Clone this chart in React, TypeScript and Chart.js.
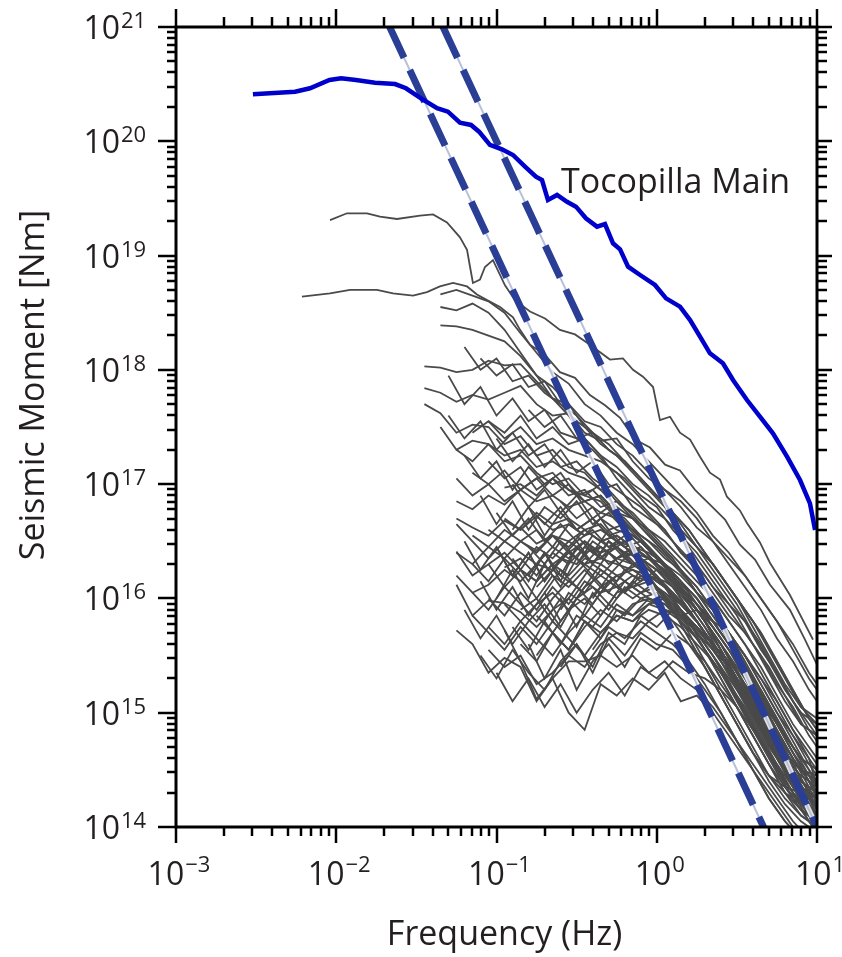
import React, { useEffect, useRef } from "react";
import { Chart, registerables } from "chart.js";

Chart.register(...registerables);

// ---------- axis ticks ----------
const xTickExponents = [-3, -2, -1, 0, 1];
const yTickExponents = [14, 15, 16, 17, 18, 19, 20, 21];
const xTitle = "Frequency (Hz)";
const yTitle = "Seismic Moment [Nm]";
const mainLabel = "Tocopilla Main";

// ---------- Tocopilla main shock (log10 Hz, log10 Nm) ----------
const mainLogFreq = [-2.52, -2.257, -2.164, -2.042, -1.97, -1.877, -1.758, -1.633, -1.565, -1.471, -1.371, -1.303, -1.228, -1.159, -1.109, -1.041, -0.966, -0.897, -0.822, -0.754, -0.716, -0.679, -0.622, -0.56, -0.504, -0.442, -0.373, -0.323, -0.273, -0.229, -0.179, -0.104, -0.011, 0.058, 0.145, 0.208, 0.27, 0.332, 0.413, 0.476, 0.563, 0.644, 0.725, 0.813, 0.894, 0.956, 0.988];
const mainLogMoment = [20.411, 20.434, 20.464, 20.536, 20.551, 20.536, 20.513, 20.501, 20.464, 20.376, 20.289, 20.259, 20.163, 20.143, 20.084, 19.968, 19.93, 19.88, 19.778, 19.69, 19.661, 19.486, 19.53, 19.471, 19.428, 19.326, 19.253, 19.276, 19.107, 19.055, 18.903, 18.83, 18.743, 18.626, 18.553, 18.436, 18.29, 18.145, 18.057, 17.911, 17.736, 17.59, 17.445, 17.24, 17.036, 16.832, 16.599];

// ---------- corner-frequency scaling lines (M0 ~ f^-3) ----------
const bandFreq = [0.01, 10];
const bandLowMoment = [1e22, 1e13];
const bandHighMoment = [1e23, 1e14];

// ---------- two largest aftershocks (log10 Hz, log10 Nm) ----------
const bigA_LogFreq = [-2.039, -1.933, -1.808, -1.727, -1.621, -1.477, -1.396, -1.309, -1.228, -1.184, -1.165, -1.147, -1.103, -1.072, -1.022, -0.947, -0.885, -0.791, -0.697, -0.604, -0.51, -0.417, -0.292, -0.211, -0.148, -0.086, -0.023, 0.02, 0.083, 0.145, 0.208, 0.27, 0.332, 0.395, 0.438, 0.519, 0.563, 0.644, 0.707, 0.831, 0.975];
const bigA_LogMoment = [19.31, 19.37, 19.37, 19.34, 19.32, 19.35, 19.36, 19.29, 19.16, 19.05, 18.9, 18.76, 18.79, 18.9, 18.96, 18.74, 18.61, 18.51, 18.45, 18.35, 18.31, 18.22, 18.09, 18.1, 18.0, 17.94, 17.85, 17.56, 17.59, 17.45, 17.39, 17.24, 17.1, 17.04, 16.89, 16.77, 16.66, 16.49, 16.31, 16.03, 15.64];
const bigB_LogFreq = [-2.214, -2.039, -1.914, -1.746, -1.646, -1.521, -1.434, -1.353, -1.271, -1.184, -1.122, -1.059, -0.978, -0.897, -0.853, -0.791, -0.697, -0.604, -0.51, -0.417, -0.323, -0.229, -0.136, -0.042, 0.052, 0.145, 0.239, 0.332, 0.426, 0.519, 0.613, 0.707, 0.831, 0.925, 1.0];
const bigB_LogMoment = [18.64, 18.67, 18.7, 18.7, 18.67, 18.65, 18.68, 18.73, 18.76, 18.73, 18.66, 18.61, 18.55, 18.46, 18.35, 18.22, 18.13, 17.98, 17.93, 17.78, 17.69, 17.58, 17.39, 17.32, 17.17, 17.12, 16.95, 16.82, 16.69, 16.47, 16.34, 16.12, 15.9, 15.64, 15.42];

// ---------- aftershock spectra, sampled on two frequency grids ----------
const gridLogFreqA = [-1.45, -1.35, -1.25, -1.15, -1.05, -0.95, -0.85, -0.75, -0.65, -0.55, -0.45, -0.35, -0.25, -0.15, -0.05, 0.05, 0.15, 0.25, 0.35, 0.45, 0.55, 0.65, 0.75, 0.85, 0.95, 1.0];
const gridLogFreqB = [-1.4, -1.3, -1.2, -1.1, -1.0, -0.9, -0.8, -0.7, -0.6, -0.5, -0.4, -0.3, -0.2, -0.1, 0.0, 0.1, 0.2, 0.3, 0.4, 0.5, 0.6, 0.7, 0.8, 0.9, 1.0];

const aft01 = [18.03, 18.02, 17.98, 18.0, 18.08, 18.04, 18.05, 17.9, 17.75, 17.7, 17.55, 17.5, 17.35, 17.25, 17.1, 16.95, 16.85, 16.7, 16.5, 16.35, 16.2, 16.0, 15.8, 15.6, 15.35, 15.25];
const aft02 = [17.84, 17.8, 17.72, 17.78, 17.74, 17.8, 17.86, 17.7, 17.6, 17.62, 17.45, 17.38, 17.4, 17.2, 17.05, 16.95, 16.8, 16.62, 16.5, 16.3, 16.1, 15.9, 15.65, 15.45, 15.2, 15.1];
const aft03 = [17.7, 17.62, 17.45, 17.52, 17.5, 17.35, 17.42, 17.25, 17.3, 17.15, 17.1, 16.95, 17.0, 16.8, 16.7, 16.6, 16.4, 16.3, 16.1, 15.95, 15.8, 15.55, 15.35, 15.1, 14.85, 14.75];
const aft04 = [18.66, 18.7, 18.65, 18.6, 18.5, 18.32, 18.15, 17.98, 17.88, 17.7, 17.6, 17.45, 17.35, 17.2, 17.05, 16.9, 16.75, 16.55, 16.4, 16.2, 16.0, 15.8, 15.55, 15.3, 15.2];
const aft05 = [18.55, 18.52, 18.58, 18.5, 18.35, 18.15, 17.95, 17.75, 17.6, 17.4, 17.25, 17.05, 16.9, 16.75, 16.6, 16.4, 16.25, 16.05, 15.85, 15.7, 15.5, 15.25, 15.05, 14.8, 14.7];
const aft06 = [18.39, 18.38, 18.35, 18.3, 18.25, 18.12, 17.95, 17.85, 17.7, 17.5, 17.35, 17.25, 17.1, 16.95, 16.8, 16.6, 16.45, 16.3, 16.1, 15.9, 15.7, 15.45, 15.2, 14.95, 14.85];
const aft07 = [17.5, 17.3, 17.38, 17.35, 17.2, 17.25, 17.1, 17.0, 17.05, 16.9, 16.85, 16.7, 16.6, 16.5, 16.35, 16.25, 16.05, 15.9, 15.7, 15.5, 15.3, 15.05, 14.8, 14.55, 14.45];
const aft08 = [16.85, 16.78, 16.9, 16.82, 16.95, 16.85, 16.9, 16.8, 16.85, 16.75, 16.7, 16.6, 16.45, 16.3, 16.15, 16.0, 15.8, 15.6, 15.4, 15.15, 14.9, 14.65, 14.4, 14.3];
const aft09 = [16.7, 16.62, 16.55, 16.68, 16.6, 16.72, 16.6, 16.65, 16.55, 16.6, 16.5, 16.45, 16.35, 16.25, 16.1, 15.95, 15.8, 15.6, 15.4, 15.2, 14.95, 14.7, 14.45, 14.35];
const aft10 = [16.4, 16.3, 16.45, 16.35, 16.5, 16.42, 16.55, 16.5, 16.6, 16.5, 16.55, 16.45, 16.35, 16.25, 16.1, 15.9, 15.7, 15.5, 15.25, 15.0, 14.75, 14.5, 14.2, 14.1];
const aft11 = [16.2, 16.05, 16.12, 16.25, 16.15, 16.3, 16.25, 16.4, 16.3, 16.35, 16.3, 16.25, 16.2, 16.1, 15.95, 15.8, 15.6, 15.4, 15.2, 14.95, 14.7, 14.45, 14.15, 14.0];
const aft12 = [15.72, 15.6, 15.35, 15.48, 15.4, 15.1, 15.3, 15.45, 15.45, 15.5, 15.4, 15.5, 15.35, 15.45, 15.3, 15.2, 15.05, 14.85, 14.65, 14.45, 14.25, 14.05, 13.9, 13.8];
const aft13 = [16.12, 15.85, 15.98, 15.96, 15.88, 15.75, 15.9, 16.0, 15.85, 16.05, 16.1, 16.0, 16.1, 16.05, 15.95, 15.8, 15.6, 15.45, 15.25, 15.05, 14.8, 14.55, 14.3, 14.15];
const aft14 = [16.41, 16.2, 16.3, 16.1, 16.25, 16.15, 16.3, 16.2, 16.35, 16.3, 16.2, 16.25, 16.15, 16.0, 15.85, 15.7, 15.5, 15.3, 15.1, 14.85, 14.6, 14.35, 14.1, 13.95];
const aft15 = [16.97, 17.0, 16.9, 17.05, 16.95, 16.85, 16.9, 16.75, 16.6, 16.45, 16.3, 16.15, 16.0, 15.8, 15.6, 15.4, 15.15, 14.9, 14.65, 14.45, 14.3];
const aft16 = [16.27, 16.35, 16.2, 16.4, 16.3, 16.45, 16.35, 16.5, 16.4, 16.35, 16.3, 16.2, 16.05, 15.9, 15.7, 15.5, 15.25, 15.0, 14.75, 14.5, 14.35];
const aft17 = [15.55, 15.4, 15.5, 15.25, 15.35, 15.5, 15.4, 15.6, 15.7, 15.65, 15.8, 15.9, 15.85, 15.9, 15.8, 15.7, 15.5, 15.3, 15.1, 14.85, 14.6, 14.35];
const aft18 = [15.72, 15.45, 15.12, 15.3, 15.0, 14.85, 15.25, 15.15, 15.3, 15.2, 15.35, 15.1, 15.15, 15.0, 14.8, 14.6, 14.4, 14.2, 14.0, 13.8, 13.7];
const aft19 = [16.6, 16.5, 16.62, 16.48, 16.55, 16.4, 16.5, 16.35, 16.45, 16.3, 16.35, 16.2, 16.1, 15.95, 15.8, 15.6, 15.4, 15.15, 14.9, 14.65, 14.4, 14.25];
const aft20 = [16.0, 15.85, 16.05, 15.9, 16.1, 15.95, 16.15, 16.05, 16.2, 16.1, 16.2, 16.15, 16.05, 15.9, 15.75, 15.55, 15.35, 15.1, 14.85, 14.6, 14.35, 14.2];
const aft21 = [17.1, 17.0, 17.12, 16.95, 17.05, 17.1, 16.95, 16.9, 17.0, 16.85, 16.75, 16.6, 16.5, 16.35, 16.2, 16.0, 15.8, 15.6, 15.35, 15.1, 14.85, 14.65, 14.55];
const aft22 = [16.5, 16.6, 16.45, 16.65, 16.55, 16.7, 16.6, 16.55, 16.45, 16.3, 16.15, 15.95, 15.75, 15.55, 15.3, 15.05, 14.8, 14.55, 14.3, 14.15];
const aft23 = [15.9, 16.0, 15.8, 16.05, 15.95, 16.1, 16.0, 16.15, 16.05, 16.0, 15.9, 15.75, 15.6, 15.4, 15.2, 14.95, 14.7, 14.45, 14.2, 14.05];
const aft24 = [15.5, 15.7, 15.55, 15.8, 15.7, 15.85, 15.8, 15.9, 15.85, 15.75, 15.6, 15.45, 15.25, 15.05, 14.8, 14.55, 14.3, 14.05, 13.95];
const aft25 = [16.3, 16.15, 16.35, 16.2, 16.0, 16.2, 16.1, 16.25, 16.1, 16.2, 16.1, 16.15, 16.0, 15.9, 15.75, 15.6, 15.4, 15.2, 14.95, 14.7, 14.45, 14.2, 14.05];
const aft26 = [15.85, 15.7, 15.55, 15.75, 15.6, 15.8, 15.65, 15.5, 15.7, 15.85, 15.8, 15.95, 15.9, 15.85, 15.75, 15.6, 15.45, 15.25, 15.05, 14.8, 14.55, 14.3, 14.15];
const aft27 = [17.3, 17.2, 17.35, 17.25, 17.3, 17.15, 17.2, 17.1, 17.05, 16.95, 16.8, 16.7, 16.55, 16.4, 16.25, 16.1, 15.9, 15.7, 15.5, 15.25, 15.0, 14.8, 14.6, 14.5];
const aft28 = [17.05, 16.9, 17.0, 16.85, 16.95, 17.05, 16.9, 17.0, 16.85, 16.9, 16.75, 16.7, 16.55, 16.4, 16.25, 16.1, 15.9, 15.7, 15.45, 15.2, 14.95, 14.7, 14.5, 14.4];
const aft29 = [17.55, 17.45, 17.6, 17.4, 17.5, 17.35, 17.4, 17.25, 17.15, 17.0, 16.9, 16.75, 16.6, 16.45, 16.3, 16.1, 15.9, 15.7, 15.45, 15.2, 14.95, 14.85];
const aft30 = [16.55, 16.45, 16.6, 16.5, 16.4, 16.55, 16.45, 16.6, 16.5, 16.55, 16.45, 16.35, 16.25, 16.1, 15.95, 15.75, 15.55, 15.35, 15.1, 14.85, 14.6, 14.4, 14.25];
const aft31 = [16.3, 16.4, 16.25, 16.45, 16.35, 16.5, 16.4, 16.45, 16.35, 16.4, 16.3, 16.2, 16.05, 15.9, 15.7, 15.5, 15.3, 15.05, 14.8, 14.55, 14.3, 14.15];
const aft32 = [15.95, 15.8, 15.95, 16.05, 15.9, 16.1, 16.2, 16.1, 16.2, 16.15, 16.05, 15.9, 15.75, 15.55, 15.35, 15.1, 14.85, 14.6, 14.35, 14.1, 14.0];
const aft33 = [16.25, 16.15, 16.3, 16.4, 16.3, 16.45, 16.35, 16.45, 16.4, 16.3, 16.15, 16.0, 15.8, 15.6, 15.35, 15.1, 14.85, 14.6, 14.4, 14.3];
const aft34 = [16.1, 16.25, 16.15, 16.3, 16.2, 16.35, 16.3, 16.25, 16.1, 15.95, 15.8, 15.6, 15.4, 15.15, 14.9, 14.65, 14.4, 14.2, 14.1];
const aft35 = [15.7, 15.55, 15.8, 15.65, 15.9, 15.85, 15.95, 16.0, 15.9, 15.75, 15.6, 15.4, 15.2, 14.95, 14.7, 14.45, 14.2, 14.0];
const aft36 = [17.45, 17.55, 17.4, 17.5, 17.35, 17.4, 17.3, 17.25, 17.2, 17.1, 16.95, 16.8, 16.7, 16.55, 16.4, 16.2, 16.0, 15.8, 15.6, 15.35, 15.1, 14.9, 14.8];
const aft37 = [15.75, 15.6, 15.8, 15.65, 15.5, 15.7, 15.85, 15.75, 15.95, 15.85, 16.0, 15.95, 15.85, 15.7, 15.55, 15.4, 15.2, 15.0, 14.75, 14.5, 14.25, 14.1];
const aft38 = [16.05, 15.9, 16.1, 15.95, 15.8, 16.0, 16.15, 16.05, 16.25, 16.15, 16.3, 16.2, 16.1, 15.95, 15.8, 15.6, 15.4, 15.15, 14.9, 14.65, 14.4, 14.25, 14.1];
const aft39 = [16.7, 16.6, 16.75, 16.65, 16.7, 16.6, 16.65, 16.5, 16.4, 16.25, 16.1, 15.9, 15.7, 15.5, 15.25, 15.0, 14.75, 14.55, 14.35, 14.25, 14.15];
const aft40 = [15.6, 15.45, 15.7, 15.55, 15.75, 15.9, 15.8, 15.95, 16.0, 15.9, 15.8, 15.65, 15.45, 15.25, 15.0, 14.75, 14.5, 14.25, 14.05, 13.95];
const aft41 = [16.65, 16.5, 16.35, 16.5, 16.4, 16.3, 16.45, 16.35, 16.5, 16.4, 16.45, 16.3, 16.2, 16.1, 15.95, 15.8, 15.6, 15.4, 15.2, 14.95, 14.7, 14.45, 14.2, 14.05];
const aft42 = [17.2, 17.05, 17.15, 16.95, 17.05, 16.9, 16.95, 16.8, 16.85, 16.7, 16.6, 16.45, 16.3, 16.15, 16.0, 15.8, 15.6, 15.4, 15.15, 14.9, 14.7, 14.6];
const aft43 = [15.85, 15.7, 15.9, 16.0, 15.85, 16.05, 16.1, 16.0, 15.95, 15.8, 15.65, 15.45, 15.25, 15.0, 14.75, 14.5, 14.3, 14.15, 14.05];

const bft01 = [17.25, 17.05, 17.2, 16.95, 17.15, 17.0, 17.1, 16.9, 16.95, 16.8, 16.7, 16.55, 16.45, 16.3, 16.15, 15.95, 15.75, 15.55, 15.3, 15.05, 14.8, 14.6, 14.5];
const bft02 = [16.9, 16.65, 16.85, 16.6, 16.8, 16.7, 16.85, 16.65, 16.75, 16.6, 16.5, 16.35, 16.2, 16.05, 15.85, 15.65, 15.45, 15.2, 14.95, 14.7, 14.5, 14.4];
const bft03 = [16.5, 16.25, 16.45, 16.2, 16.4, 16.15, 16.35, 16.3, 16.5, 16.4, 16.5, 16.35, 16.25, 16.1, 15.9, 15.7, 15.5, 15.25, 15.0, 14.75, 14.5, 14.3, 14.2];
const bft04 = [16.0, 16.25, 16.0, 16.3, 16.1, 16.35, 16.2, 16.4, 16.25, 16.3, 16.2, 16.05, 15.9, 15.7, 15.5, 15.25, 15.0, 14.75, 14.5, 14.3, 14.2];
const bft05 = [15.9, 15.65, 15.85, 15.6, 15.8, 15.95, 15.75, 16.0, 16.1, 15.95, 16.15, 16.05, 16.1, 15.95, 15.8, 15.6, 15.4, 15.15, 14.9, 14.65, 14.4, 14.2, 14.1];
const bft06 = [16.6, 16.8, 16.55, 16.75, 16.6, 16.7, 16.55, 16.6, 16.45, 16.3, 16.15, 15.95, 15.75, 15.5, 15.25, 15.0, 14.75, 14.55, 14.35, 14.25];
const bft07 = [16.2, 16.4, 16.15, 16.45, 16.3, 16.5, 16.35, 16.45, 16.3, 16.15, 16.0, 15.8, 15.6, 15.35, 15.1, 14.85, 14.6, 14.4, 14.25];
const bft08 = [15.5, 15.3, 15.55, 15.35, 15.2, 15.45, 15.6, 15.4, 15.7, 15.6, 15.85, 15.75, 15.9, 15.8, 15.65, 15.45, 15.25, 15.0, 14.75, 14.5, 14.25, 14.1];
const bft09 = [17.4, 17.2, 17.35, 17.15, 17.3, 17.1, 17.2, 17.0, 16.9, 16.8, 16.65, 16.5, 16.35, 16.2, 16.0, 15.8, 15.6, 15.4, 15.15, 14.9, 14.8];
const bft10 = [17.95, 17.7, 17.85, 17.6, 17.75, 17.55, 17.65, 17.45, 17.4, 17.3, 17.15, 17.05, 16.9, 16.8, 16.6, 16.45, 16.25, 16.05, 15.85, 15.6, 15.35, 15.1, 14.9, 14.8];
const bft11 = [18.2, 18.0, 18.1, 17.9, 17.95, 17.8, 17.7, 17.55, 17.45, 17.3, 17.2, 17.05, 16.9, 16.75, 16.55, 16.35, 16.15, 15.95, 15.7, 15.45, 15.2, 15.0, 14.9];
const bft12 = [16.35, 16.15, 16.4, 16.2, 16.45, 16.3, 16.5, 16.4, 16.35, 16.25, 16.1, 15.9, 15.7, 15.45, 15.2, 14.95, 14.7, 14.5, 14.3, 14.2];
const bft13 = [15.8, 16.0, 15.75, 16.05, 15.9, 16.1, 16.0, 16.05, 15.9, 15.75, 15.55, 15.35, 15.1, 14.85, 14.6, 14.35, 14.15, 14.05];
const bft14 = [16.15, 15.9, 16.1, 15.85, 16.05, 15.8, 16.0, 16.2, 16.05, 16.25, 16.15, 16.25, 16.1, 15.95, 15.75, 15.55, 15.3, 15.05, 14.8, 14.55, 14.35, 14.2];
const bft15 = [15.4, 15.6, 15.35, 15.65, 15.5, 15.7, 15.6, 15.55, 15.4, 15.2, 15.0, 14.75, 14.5, 14.25, 14.05, 13.9, 13.8];
const bft16 = [17.0, 16.8, 16.95, 16.75, 16.9, 16.7, 16.8, 16.6, 16.5, 16.35, 16.2, 16.0, 15.8, 15.6, 15.35, 15.1, 14.85, 14.65, 14.5, 14.45];
const bft17 = [15.6, 15.3, 15.55, 15.2, 15.45, 15.6, 15.4, 15.65, 15.55, 15.7, 15.6, 15.45, 15.25, 15.05, 14.8, 14.55, 14.3, 14.1, 14.0];
const bft18 = [16.55, 16.4, 16.6, 16.45, 16.5, 16.35, 16.2, 16.0, 15.8, 15.55, 15.3, 15.05, 14.8, 14.6, 14.45, 14.35];
const bft19 = [16.0, 16.2, 16.05, 16.25, 16.15, 16.05, 15.9, 15.7, 15.5, 15.25, 15.0, 14.75, 14.5, 14.3, 14.2];
const bft20 = [16.75, 16.55, 16.7, 16.5, 16.65, 16.5, 16.6, 16.45, 16.55, 16.4, 16.3, 16.15, 16.0, 15.8, 15.6, 15.35, 15.1, 14.85, 14.6, 14.4, 14.3];
const bft21 = [17.6, 17.4, 17.55, 17.3, 17.45, 17.25, 17.35, 17.15, 17.2, 17.05, 16.95, 16.8, 16.65, 16.5, 16.35, 16.15, 15.95, 15.75, 15.5, 15.25, 15.0, 14.8, 14.6, 14.5];
const bft22 = [18.1, 17.95, 18.05, 17.85, 17.9, 17.7, 17.6, 17.45, 17.35, 17.2, 17.05, 16.9, 16.75, 16.6, 16.4, 16.2, 16.0, 15.8, 15.55, 15.3, 15.05, 14.9];
const bft23 = [17.65, 17.5, 17.6, 17.4, 17.45, 17.3, 17.2, 17.05, 16.9, 16.75, 16.6, 16.4, 16.2, 16.0, 15.75, 15.5, 15.25, 15.05, 14.95];
const bft24 = [16.85, 16.7, 16.8, 16.6, 16.65, 16.5, 16.35, 16.2, 16.0, 15.8, 15.55, 15.3, 15.05, 14.8, 14.6, 14.5, 14.4];
const bft25 = [15.35, 15.1, 15.3, 15.05, 15.25, 15.0, 15.2, 15.35, 15.15, 15.4, 15.3, 15.45, 15.35, 15.3, 15.2, 15.05, 14.85, 14.65, 14.4, 14.2, 14.0];
const bft26 = [16.45, 16.3, 16.5, 16.35, 16.55, 16.45, 16.5, 16.35, 16.2, 16.0, 15.8, 15.55, 15.3, 15.05, 14.8, 14.55, 14.35, 14.2, 14.1];
const bft27 = [16.05, 16.25, 16.1, 16.3, 16.2, 16.35, 16.25, 16.1, 15.9, 15.7, 15.45, 15.2, 14.95, 14.7, 14.45, 14.25, 14.1, 14.0];
const bft28 = [15.75, 15.55, 15.8, 15.6, 15.85, 15.75, 15.95, 15.85, 16.0, 15.95, 15.8, 15.6, 15.4, 15.15, 14.9, 14.65, 14.4, 14.2, 14.05, 13.95];
const bft29 = [16.3, 16.45, 16.3, 16.4, 16.25, 16.1, 15.9, 15.65, 15.4, 15.15, 14.9, 14.65, 14.45, 14.3, 14.2, 14.1];
const bft30 = [16.45, 16.2, 16.4, 16.15, 16.35, 16.5, 16.3, 16.5, 16.4, 16.45, 16.3, 16.15, 16.0, 15.8, 15.55, 15.3, 15.05, 14.8, 14.55, 14.35, 14.25];
const bft31 = [15.9, 16.1, 15.95, 16.15, 16.05, 16.2, 16.1, 15.95, 15.75, 15.55, 15.3, 15.05, 14.8, 14.55, 14.3, 14.15, 14.05];
const bft32 = [16.8, 16.65, 16.8, 16.6, 16.7, 16.55, 16.45, 16.3, 16.1, 15.9, 15.65, 15.4, 15.15, 14.9, 14.65, 14.45, 14.35, 14.3, 14.25];
const bft33 = [15.55, 15.75, 15.65, 15.8, 15.7, 15.6, 15.45, 15.25, 15.0, 14.75, 14.5, 14.25, 14.05, 13.9, 13.8];

const spectraOnGridA = [aft01, aft02, aft03, aft04, aft05, aft06, aft07, aft08, aft09, aft10, aft11, aft12, aft13, aft14, aft15, aft16, aft17, aft18, aft19, aft20, aft21, aft22, aft23, aft24, aft25, aft26, aft27, aft28, aft29, aft30, aft31, aft32, aft33, aft34, aft35, aft36, aft37, aft38, aft39, aft40, aft41, aft42, aft43];
const startOnGridA = [0, 0, 0, 1, 1, 1, 1, 2, 2, 2, 2, 2, 2, 2, 5, 5, 4, 5, 4, 4, 3, 6, 6, 7, 3, 3, 2, 2, 4, 3, 4, 5, 6, 7, 8, 3, 4, 3, 5, 6, 2, 4, 7];
const spectraOnGridB = [bft01, bft02, bft03, bft04, bft05, bft06, bft07, bft08, bft09, bft10, bft11, bft12, bft13, bft14, bft15, bft16, bft17, bft18, bft19, bft20, bft21, bft22, bft23, bft24, bft25, bft26, bft27, bft28, bft29, bft30, bft31, bft32, bft33];
const startOnGridB = [2, 3, 2, 4, 2, 5, 6, 3, 4, 1, 2, 5, 7, 3, 8, 5, 6, 9, 10, 4, 1, 3, 6, 8, 4, 6, 7, 5, 9, 4, 8, 6, 10];

// ---------- helpers ----------
const p10 = (v: number) => Math.pow(10, v);
const logPts = (lf: number[], lm: number[]) => lf.map((f, i) => ({ x: p10(f), y: p10(lm[i]) }));
const gridPts = (grid: number[], start: number, lm: number[]) => {
  const out: { x: number; y: number }[] = [];
  lm.forEach((m, i) => {
    const gi = start + i;
    if (gi < grid.length) out.push({ x: p10(grid[gi]), y: p10(m) });
  });
  return out;
};

const FONT = '"Open Sans", "Noto Sans", sans-serif';
const TEXT = "#231f20";
const supExp = (e: number) => (e < 0 ? "\u2212" + Math.abs(e) : String(e));

const framePlugin = {
  id: "framePlugin",
  afterDraw(chart: any) {
    const { ctx, chartArea: a, scales } = chart;
    const xs = scales.x;
    const ys = scales.y;
    ctx.save();
    ctx.strokeStyle = "#000";
    ctx.lineCap = "butt";
    ctx.lineWidth = 2.5;
    const seg = (x1: number, y1: number, x2: number, y2: number) => {
      ctx.beginPath();
      ctx.moveTo(x1, y1);
      ctx.lineTo(x2, y2);
      ctx.stroke();
    };
    for (let e = -3; e <= 1; e++) {
      for (let k = 1; k <= 9; k++) {
        const v = k * p10(e);
        if (v > 10.0001) break;
        const px = Math.round(xs.getPixelForValue(v));
        const major = k === 1;
        seg(px, a.bottom, px, a.bottom + (major ? 16 : 9));
        seg(px, a.top, px, a.top - (major ? 18 : 10));
      }
    }
    for (let e = 14; e <= 21; e++) {
      for (let k = 1; k <= 9; k++) {
        const v = k * p10(e);
        if (v > 1.0001e21) break;
        const py = Math.round(ys.getPixelForValue(v));
        const major = k === 1;
        seg(a.left, py, a.left - (major ? 18 : 9), py);
        seg(a.right, py, a.right + (major ? 15 : 10), py);
      }
    }
    ctx.lineWidth = 3;
    ctx.strokeRect(a.left, a.top, a.right - a.left, a.bottom - a.top);

    ctx.fillStyle = TEXT;
    ctx.textBaseline = "alphabetic";
    const bigFont = `32px ${FONT}`;
    const supFont = `22px ${FONT}`;
    xTickExponents.forEach((e) => {
      const px = xs.getPixelForValue(p10(e));
      ctx.font = bigFont;
      const w1 = ctx.measureText("10").width;
      ctx.font = supFont;
      const s = supExp(e);
      const w2 = ctx.measureText(s).width;
      const total = w1 + 1 + w2;
      const x0 = px + 3 - total / 2;
      ctx.textAlign = "left";
      ctx.font = bigFont;
      ctx.fillText("10", x0, a.bottom + 58);
      ctx.font = supFont;
      ctx.fillText(s, x0 + w1 + 1, a.bottom + 45);
    });
    yTickExponents.forEach((e) => {
      const py = ys.getPixelForValue(p10(e));
      ctx.font = bigFont;
      ctx.textAlign = "right";
      ctx.fillText("10", 120, py + 12);
      ctx.font = supFont;
      ctx.textAlign = "left";
      ctx.fillText(supExp(e), 121, py + 1);
    });

    ctx.font = `34px ${FONT}`;
    ctx.textAlign = "center";
    ctx.fillText(xTitle, (a.left + a.right) / 2 + 8, 945);
    ctx.save();
    ctx.translate(44, 385);
    ctx.rotate(-Math.PI / 2);
    ctx.fillText(yTitle, 0, 0);
    ctx.restore();

    ctx.font = `34px ${FONT}`;
    ctx.textAlign = "left";
    ctx.fillText(mainLabel, 561, 193);
    ctx.restore();
  },
};

export default function App() {
  const ref = useRef<HTMLCanvasElement | null>(null);
  useEffect(() => {
    if (!ref.current) return;
    const datasets: any[] = [];
    datasets.push({
      data: logPts(mainLogFreq, mainLogMoment),
      borderColor: "#0000cc",
      borderWidth: 4.5,
      order: 0,
      clip: 0,
    });
    const bandOffsets = [20.4, 39.8];
    [bandLowMoment, bandHighMoment].forEach((m, i) => {
      const pts = bandFreq.map((f, j) => ({ x: f, y: m[j] }));
      datasets.push({ data: pts, borderColor: "#2a3e96", borderWidth: 7, borderDash: [35, 13.5], borderDashOffset: bandOffsets[i], borderCapStyle: "butt", order: 1, clip: 0 });
      datasets.push({ data: pts, borderColor: "#b9c0dc", borderWidth: 2, order: 2, clip: 0 });
      datasets.push({ data: pts, borderColor: "rgba(255,255,255,0.85)", borderWidth: 5, order: 3, clip: 0 });
    });
    const gray = "#4a4a4a";
    const gw = 1.8;
    datasets.push({ data: logPts(bigA_LogFreq, bigA_LogMoment), borderColor: gray, borderWidth: gw, order: 4, clip: 0 });
    datasets.push({ data: logPts(bigB_LogFreq, bigB_LogMoment), borderColor: gray, borderWidth: gw, order: 4, clip: 0 });
    spectraOnGridA.forEach((lm, i) => {
      datasets.push({ data: gridPts(gridLogFreqA, startOnGridA[i], lm), borderColor: gray, borderWidth: gw, order: 5, clip: 0 });
    });
    spectraOnGridB.forEach((lm, i) => {
      datasets.push({ data: gridPts(gridLogFreqB, startOnGridB[i], lm), borderColor: gray, borderWidth: gw, order: 5, clip: 0 });
    });

    const chart = new Chart(ref.current, {
      type: "line",
      data: { datasets },
      options: {
        animation: false,
        responsive: false,
        events: [],
        layout: { padding: { left: 176, top: 27, right: 25, bottom: 130 } },
        elements: { point: { radius: 0 }, line: { tension: 0, fill: false } },
        plugins: { legend: { display: false }, tooltip: { enabled: false } },
        scales: {
          x: { type: "logarithmic", min: 1e-3, max: 10, display: false },
          y: { type: "logarithmic", min: 1e14, max: 1e21, display: false },
        },
      },
      plugins: [framePlugin],
    } as any);
    return () => chart.destroy();
  }, []);
  return (
    <div style={{ position: "absolute", left: 0, top: 0, width: 842, height: 957, background: "#fff" }}>
      <canvas ref={ref} width={842} height={957} style={{ display: "block" }} />
    </div>
  );
}
